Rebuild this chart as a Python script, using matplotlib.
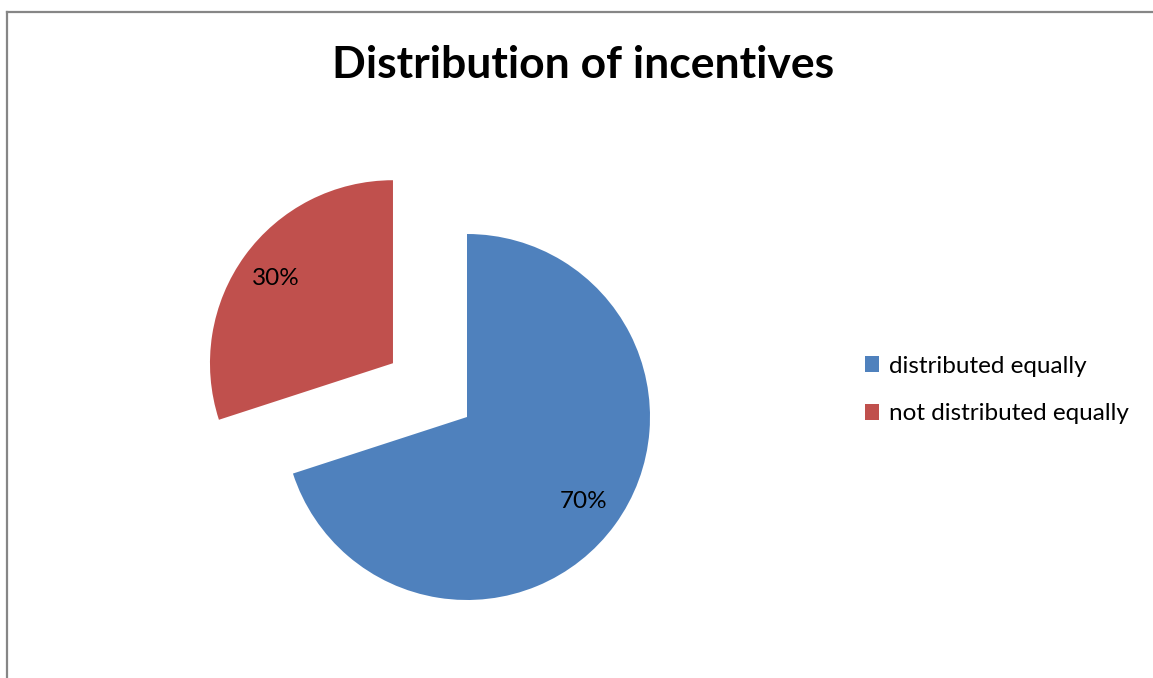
import matplotlib.pyplot as plt
from matplotlib.lines import Line2D

# shares of respondents
labels = ['distributed equally', 'not distributed equally']
shares = [70, 30]
colors = ['#4F81BD', '#C0504D']
explode_frac = [0, 0.5]

W, H = 1153, 678
R = 183
fig = plt.figure(figsize=(W / 100, H / 100), dpi=100)
plt.rcParams['font.family'] = ['Lato', 'DejaVu Sans']

# axes in pixel units, y up
ax = fig.add_axes([0, 0, 1, 1])
ax.set_xlim(0, W)
ax.set_ylim(0, H)
ax.set_aspect('equal')
ax.axis('off')

# pie explode is in data units, so scale by the radius
wedges, texts, autotexts = ax.pie(
    shares, colors=colors, explode=[e * R for e in explode_frac],
    startangle=90, counterclock=False, center=(467, H - 417), radius=R,
    autopct='%1.0f%%', pctdistance=0.79,
    textprops=dict(fontsize=17.5, color='black'),
    wedgeprops=dict(linewidth=0))
ax.set_xlim(0, W)
ax.set_ylim(0, H)

# chart frame (top and left edges)
ax.add_line(Line2D([7, W], [H - 12, H - 12], color='#868686', lw=1.6))
ax.add_line(Line2D([7, 7], [0, H - 12], color='#868686', lw=1.6))

ax.text(583, H - 65, 'Distribution of incentives', fontsize=32,
        fontweight='bold', ha='center', va='center')

ax.legend(wedges, labels, loc='center left',
          bbox_to_anchor=(855 / W, 1 - 390 / H), bbox_transform=fig.transFigure,
          frameon=False, fontsize=17.5, handlelength=0.6, handleheight=0.6,
          handletextpad=0.4, labelspacing=1.1, borderaxespad=0)

fig.savefig('out.png', dpi=100)
